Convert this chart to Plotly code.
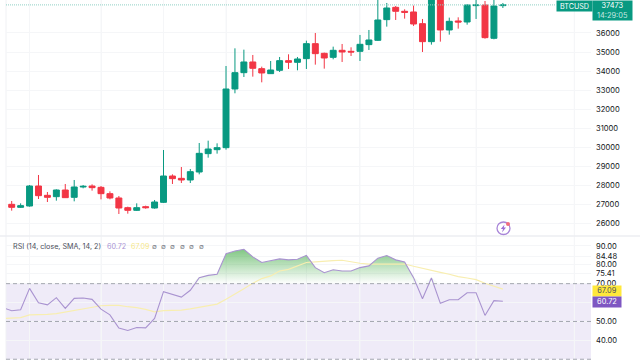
import plotly.graph_objects as go
import numpy as np

W, H = 640, 360
idx = list(range(56))
opens = [27016,26858,26928,27977,27488,27418,27767,27383,27925,27977,27907,27575,27348,26841,26701,26893,26823,27120,28501,28379,28292,28711,29673,29882,29987,33064,33920,34480,34130,33868,34043,34550,34462,34655,35441,34934,34724,35092,35039,35039,35389,35616,36700,37346,37137,37102,36490,35546,38300,36158,36630,36577,37434,37469,35721,37434]
highs = [27190,27068,28029,28554,27662,27802,28082,28292,28029,28064,27977,27697,27453,26893,27068,26946,27243,29865,28589,28973,28868,30232,30354,30214,34269,35196,35126,34847,34235,34532,34742,34882,34742,35598,36000,34969,35284,35424,35249,35896,36158,38100,37574,37416,37242,37434,36735,38500,38600,36805,36822,37504,37900,37679,37900,37574]
lows = [26683,26823,26893,27295,27138,27208,27348,27173,27855,27732,27278,27278,26509,26526,26666,26788,26788,27085,28082,28134,28134,28589,29463,29673,29882,32837,33693,33711,33413,33850,33955,34113,34043,34113,34340,34130,34620,34480,34794,34532,35109,35581,36333,36682,36752,36368,35004,35389,35546,35913,36228,36437,36735,35703,35668,37311]
closes = [26858,26946,27977,27470,27383,27767,27365,27925,27959,27890,27575,27348,26823,26701,26841,26841,27138,28501,28362,28292,28729,29690,29917,29987,33063,33920,34480,34148,33903,34060,34550,34462,34637,35441,34917,34689,35092,35004,35004,35406,35633,36682,37311,37137,37084,36472,35546,38300,36158,36612,36577,37469,37469,35756,37416,37473]

rsi_idx = list(range(-1, 56))
rsi = [57.3,55.7,56.2,67.5,59.9,58.8,62.6,56.9,62.2,62.4,61.7,56.5,53.5,46.5,45.2,46.8,46.6,51.6,65.8,64.3,62.9,66.5,73.2,74.4,75.0,85.8,87.3,88.2,84.2,81.2,82.0,83.1,82.6,82.9,85.0,78.5,75.8,77.4,76.7,76.7,78.5,79.4,83.5,84.9,82.6,81.5,73.2,62.0,73.0,59.6,61.5,61.5,65.2,65.2,53.2,61.0,60.72]
sma = [51.6,51.6,52.0,53.5,53.5,53.7,54.1,55.0,55.7,56.4,57.4,58.3,58.5,58.5,57.8,57.3,56.4,55.1,55.7,55.8,56.0,56.7,57.4,58.3,59.2,61.7,64.3,67.3,70.2,72.7,74.1,76.7,77.6,79.4,81.2,81.5,82.0,82.2,82.4,81.5,80.8,80.3,80.3,80.3,80.4,80.4,79.2,78.0,77.1,76.0,75.0,73.7,73.0,72.1,70.2,68.8,67.09]

price_ticks = [26000,27000,28000,29000,30000,31000,32000,33000,34000,35000,36000]
rsi_ticks = [30,40,50,60,70,75.41,80,84.48,90]
rsi_tick_labels = ["30.00","40.00","50.00","","70.00","75.41","80.00","84.48","90.00"]
time_grid = [2,10,17,24,33,39,45,52,63]
last_price = 37473
rsi_levels = [70,50,30]
legend_dots = ["∅","∅","∅","∅","∅","∅"]

UP, DOWN = "#089981", "#f23645"
PURPLE, YELLOW = "#7e57c2", "#fdd835"
FONT = "Inter"
GRID = "#f5f6f8"
TICK = 7.6

L, R = 6, 591
dom_x = [L/W, R/W]
x_range = [-0.638, 64.87]

fig = go.Figure()
fig.add_trace(go.Candlestick(
    x=idx, open=opens, high=highs, low=lows, close=closes,
    increasing=dict(line=dict(color=UP, width=1), fillcolor=UP),
    decreasing=dict(line=dict(color=DOWN, width=1), fillcolor=DOWN),
    whiskerwidth=0, xaxis="x", yaxis="y", showlegend=False))

ob = np.maximum(np.array(rsi), 70)
fig.add_trace(go.Scatter(x=rsi_idx, y=[70]*len(rsi_idx), mode="lines",
    line=dict(width=0), xaxis="x", yaxis="y2", showlegend=False, hoverinfo="skip"))
fig.add_trace(go.Scatter(x=rsi_idx, y=ob, mode="lines", line=dict(width=0),
    fill="tonexty",
    fillgradient=dict(type="vertical", start=70, stop=88.5,
                      colorscale=[[0,"rgba(76,175,80,0)"],[1,"rgba(76,175,80,0.72)"]]),
    xaxis="x", yaxis="y2", showlegend=False, hoverinfo="skip"))
fig.add_trace(go.Scatter(x=rsi_idx, y=sma, mode="lines",
    line=dict(color="#f8eeb0", width=1.2), xaxis="x", yaxis="y2", showlegend=False))
fig.add_trace(go.Scatter(x=rsi_idx, y=rsi, mode="lines",
    line=dict(color="#a993d0", width=1.1), xaxis="x", yaxis="y2", showlegend=False))

shapes = [
    dict(type="rect", xref="paper", x0=dom_x[0], x1=dom_x[1], yref="y2",
         y0=rsi_levels[2], y1=rsi_levels[0], fillcolor="rgba(126,87,194,0.12)",
         line_width=0, layer="below"),
    dict(type="line", xref="paper", x0=dom_x[0], x1=dom_x[0], yref="paper", y0=0, y1=1,
         line=dict(color="#f0f1f4", width=1), layer="below"),
    dict(type="line", xref="paper", x0=0, x1=1, yref="paper", y0=1-236/H, y1=1-236/H,
         line=dict(color="#eceef2", width=1.5), layer="above"),
    dict(type="line", xref="paper", x0=dom_x[0], x1=556/W, yref="y", y0=last_price, y1=last_price,
         line=dict(color="#8fd0c4", width=1, dash="1px,1px"), layer="above"),
]
for lv in rsi_levels:
    shapes.append(dict(type="line", xref="paper", x0=dom_x[0], x1=dom_x[1], yref="y2", y0=lv, y1=lv,
                       line=dict(color="#a3a6af", width=1, dash="4px,3px"), layer="above"))
def px(x, y):
    return f"{x/W} {1-y/H}"
shapes += [
    dict(type="circle", xref="paper", yref="paper", x0=497/W, x1=510/W, y0=1-234.5/H, y1=1-222/H,
         line=dict(color="#a885d8", width=1.3), fillcolor="rgba(255,255,255,0)"),
    dict(type="path", xref="paper", yref="paper", line_width=0, fillcolor="#9c6fd6",
         path="M "+" L ".join(px(*p) for p in [(504.5,224.5),(500.8,229),(503,229),(502,232.5),(506,227.6),(503.8,227.6)])+" Z"),
    dict(type="circle", xref="paper", yref="paper", x0=506/W, x1=510/W, y0=1-226/H, y1=1-222/H,
         line_width=0, fillcolor="#f26d7d"),
]

def txt(text, x, y, color="#131722", size=TICK, anchor="left", **kw):
    return dict(text=text, x=x/W, y=1-y/H, xref="paper", yref="paper", xanchor=anchor,
                yanchor="middle", showarrow=False, font=dict(family=FONT, size=size, color=color), **kw)

ann = [
    txt("RSI (14, close, SMA, 14, 2)", 11, 246, "#4a4e5a", 7.2),
    txt("60.72", 105, 246, "#a993d4", 7.2),
    txt("67.09", 129, 246, "#f6e78a", 7.2),
    dict(text="BTCUSD", x=556/W, y=1, xref="paper", yref="paper", xanchor="left", yanchor="top",
         showarrow=False, width=35, height=10, borderpad=0, bgcolor=UP,
         font=dict(family=FONT, size=7.2, color="#ffffff")),
    dict(text="37473<br><span style='color:#c5e8e1'>14:29:05</span>", x=592/W, y=1, xref="paper", yref="paper",
         xanchor="left", yanchor="top", showarrow=False, width=39, height=18.5, borderpad=0, bgcolor=UP,
         align="center", font=dict(family=FONT, size=7.4, color="#ffffff")),
    dict(text="67.09", x=592/W, y=1-290.5/H, xref="paper", yref="paper", xanchor="left", yanchor="middle",
         showarrow=False, width=28, height=9.5, borderpad=0, bgcolor="#ffe83b",
         font=dict(family=FONT, size=7.4, color="#4a4e5a")),
    dict(text="60.72", x=592/W, y=1-301.5/H, xref="paper", yref="paper", xanchor="left", yanchor="middle",
         showarrow=False, width=28, height=9.5, borderpad=0, bgcolor=PURPLE,
         font=dict(family=FONT, size=7.4, color="#ffffff")),
]
for k, dot in enumerate(legend_dots):
    ann.append(txt(dot, 154 + 9.4*k, 246, "#787b86", 7, anchor="center"))

fig.update_layout(
    width=W, height=H, autosize=False, margin=dict(l=0, r=0, t=0, b=0),
    paper_bgcolor="#ffffff", plot_bgcolor="#ffffff", showlegend=False, boxgap=0.05,
    shapes=shapes, annotations=ann,
    xaxis=dict(domain=dom_x, range=x_range, anchor="y2", showticklabels=False, ticks="",
               tickvals=time_grid, gridcolor=GRID, gridwidth=1, zeroline=False,
               rangeslider=dict(visible=False), showline=False),
    yaxis=dict(domain=[1-236/H, 1], range=[25355, 37730], side="right", anchor="x",
               tickvals=price_ticks, ticktext=[str(t) for t in price_ticks], ticks="",
               gridcolor=GRID, zeroline=False, showline=False, ticklabelstandoff=4,
               tickfont=dict(family=FONT, size=TICK, color="#131722")),
    yaxis2=dict(domain=[0, 1-237/H], range=[29.6, 94.7], side="right", anchor="x",
                tickvals=rsi_ticks, ticktext=rsi_tick_labels, ticks="",
                gridcolor=GRID, zeroline=False, showline=False, ticklabelstandoff=4,
                tickfont=dict(family=FONT, size=TICK, color="#131722")),
)
for t in time_grid:
    fig.add_shape(type="line", xref="x", yref="paper", x0=t, x1=t, y0=0, y1=1,
                  line=dict(color=GRID, width=1), layer="below")

fig.write_html("out.html", config=dict(displayModeBar=False),
               post_script="document.body.style.margin='0';document.documentElement.style.overflow='hidden';")
